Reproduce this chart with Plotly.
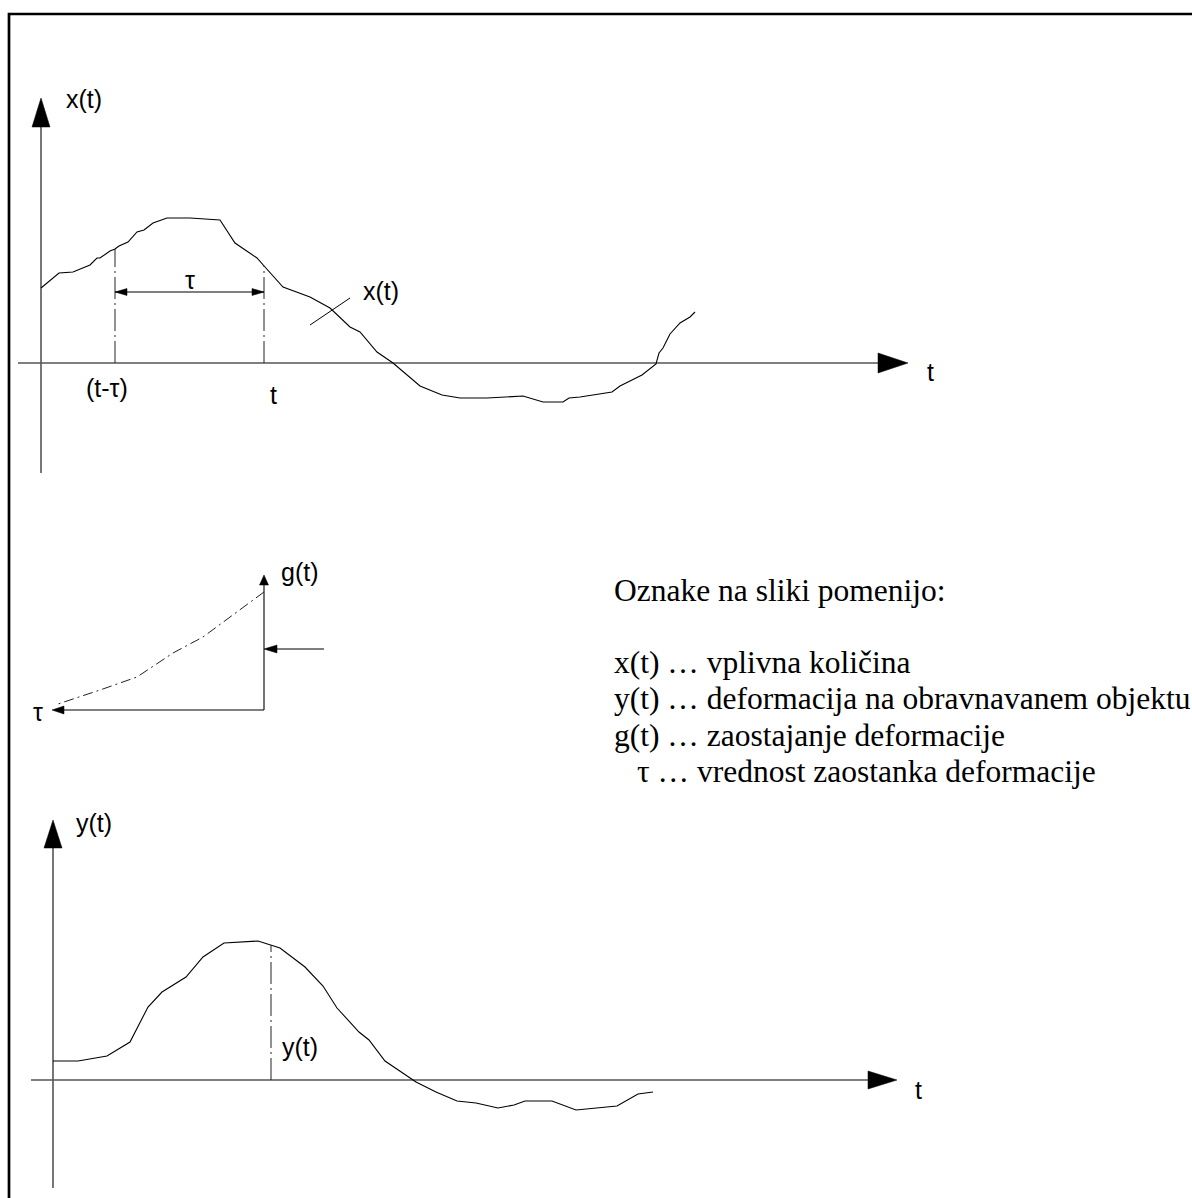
import numpy as np
import plotly.graph_objects as go

W, H = 1192, 1198

# ---- data -------------------------------------------------------------
# x(t): influence quantity, sampled as (time from origin, value above t-axis)
xt_t = [0, 18, 32, 49, 56, 59, 69, 74, 78, 87, 96, 103, 112, 126, 149, 179,
        194, 216, 224, 242, 269, 289, 309, 319, 336, 352, 379, 401, 419, 446,
        482, 502, 522, 528, 539, 571, 579, 601, 615, 618, 622, 629, 639, 649, 654]
xt_v = [75, 90, 91, 98, 105, 105, 112, 114, 117, 121, 131, 133, 140, 145, 145, 143,
        120, 105, 96, 76, 66, 55, 36, 31, 11, 0, -23, -32, -35, -35,
        -33, -39, -39, -35, -34, -29, -23, -12, -1, 10, 15, 29, 40, 46, 51]

# y(t): deformation of the observed object
yt_t = [0, 25, 54, 77, 95, 109, 133, 150, 171, 205, 227, 252, 270, 284, 306,
        316, 332, 363, 383, 404, 423, 445, 461, 472, 499, 523, 564, 585, 600]
yt_v = [19, 19, 24, 38, 73, 88, 103, 123, 137, 139, 132, 113, 94, 72, 48,
        40, 19, -2, -12, -21, -23, -28, -25, -21, -21, -30, -26, -14, -12]

# g(τ): lag weighting function
g_tau = [0, 31, 61, 91, 127, 164, 209]
g_val = [118, 95, 73, 57, 33, 20, 5]

T_NOW = 223      # current time t on the x(t) diagram
TAU = 149        # lag τ
T_Y = 218        # time t marked on the y(t) diagram

legend_lines = [
    "Oznake na sliki pomenijo:",
    "x(t) … vplivna količina",
    "y(t) … deformacija na obravnavanem objektu",
    "g(t) … zaostajanje deformacije",
    "τ … vrednost zaostanka deformacije",
]

# ---- styles -----------------------------------------------------------
AX_COL = "#555555"
CURVE = dict(color="black", width=1.1)
AXIS = dict(color=AX_COL, width=1.6)
DASHDOT = dict(color="#222222", width=1, dash="22px,4px,2px,4px")
SANS = "Liberation Sans, Arial, sans-serif"
SERIF = "Liberation Serif, Times New Roman, serif"
LBL = 25

fig = go.Figure()


def line(xs, ys, ax, style):
    fig.add_trace(go.Scatter(x=xs, y=ys, mode="lines", line=style,
                             xaxis=ax[0], yaxis=ax[1], hoverinfo="skip",
                             showlegend=False))


def arrowhead(tip_x, tip_y, dx, dy, length, half, ax):
    # filled triangle pointing along (dx, dy)
    bx, by = tip_x - dx * length, tip_y - dy * length
    px_, py_ = -dy * half, dx * half
    fig.add_trace(go.Scatter(
        x=[tip_x, bx + px_, bx - px_, tip_x],
        y=[tip_y, by + py_, by - py_, tip_y],
        mode="lines", fill="toself", fillcolor="black",
        line=dict(color="black", width=0.5),
        xaxis=ax[0], yaxis=ax[1], hoverinfo="skip", showlegend=False))


def label(x, y, text, ax, size=LBL, font=SANS, xanchor="center"):
    fig.add_annotation(x=x, y=y, xref=ax[0], yref=ax[1], text=text,
                       showarrow=False, xanchor=xanchor, yanchor="middle",
                       font=dict(family=font, size=size, color="black"))


A1, A2, A3 = ("x", "y"), ("x2", "y2"), ("x3", "y3")

# ---- panel 1: x(t) ----------------------------------------------------
line([-23, 860], [0, 0], A1, AXIS)
arrowhead(867, 0, 1, 0, 30, 10, A1)
line([0, 0], [-110, 258], A1, AXIS)
arrowhead(0, 265, 0, 1, 29, 9, A1)
line(xt_t, xt_v, A1, CURVE)

t0 = T_NOW - TAU
for tm in (t0, T_NOW):
    line([tm, tm], [0, float(np.interp(tm, xt_t, xt_v))], A1, DASHDOT)

dim_v = 71
line([t0, T_NOW], [dim_v, dim_v], A1, dict(color="black", width=1))
arrowhead(t0, dim_v, -1, 0, 12, 3.5, A1)
arrowhead(T_NOW, dim_v, 1, 0, 12, 3.5, A1)
label((t0 + T_NOW) / 2, dim_v + 12, "τ", A1)

line([269, 309], [38, 65], A1, dict(color="black", width=1))
label(340, 72, "x(t)", A1)
label(43, 264, "x(t)", A1)
label(889, -9, "t", A1)
label(t0 - 8, -25, "(t-τ)", A1)
label(T_NOW + 9, -32, "t", A1)

# ---- panel 2: g(τ) (τ grows to the left) -------------------------------
line([0, 205], [0, 0], A2, dict(color="black", width=1.1))
arrowhead(212, 0, 1, 0, 12, 4, A2)
line([0, 0], [0, 128], A2, dict(color="black", width=1.1))
arrowhead(0, 135, 0, 1, 10, 4.5, A2)
line(g_tau, g_val, A2, dict(color="#222222", width=1, dash="10px,4px,2px,4px"))
line([-60, -8], [61, 61], A2, dict(color="black", width=1.1))
arrowhead(0, 61, 1, 0, 13, 4, A2)
label(-36, 138, "g(t)", A2)
label(226, -2, "τ", A2)

# ---- panel 3: y(t) ----------------------------------------------------
line([-22, 838], [0, 0], A3, AXIS)
arrowhead(844, 0, 1, 0, 29, 9, A3)
line([0, 0], [-108, 253], A3, AXIS)
arrowhead(0, 260, 0, 1, 28, 9, A3)
line(yt_t, yt_v, A3, CURVE)
line([T_Y, T_Y], [0, float(np.interp(T_Y, yt_t, yt_v))], A3, DASHDOT)
label(T_Y + 29, 33, "y(t)", A3)
label(41, 257, "y(t)", A3)
label(865, -10, "t", A3)

# ---- legend text ------------------------------------------------------
leg_x = [612, 612, 612, 612, 635]
leg_y = [590, 662, 698, 735, 771]
for tx, lx, ly in zip(legend_lines, leg_x, leg_y):
    fig.add_annotation(x=lx / W, y=1 - ly / H, xref="paper", yref="paper",
                       text=tx, showarrow=False, xanchor="left",
                       yanchor="middle",
                       font=dict(family=SERIF, size=31.5, color="black"))

# ---- outer frame (left and top edges) ---------------------------------
fx, fy = 9 / W, 1 - 14 / H
fig.add_shape(type="path", xref="paper", yref="paper",
              path=f"M {fx},0 L {fx},{fy} L 1.01,{fy}",
              line=dict(color="black", width=2.7))

# ---- axes: one pixel per unit, origins per panel ----------------------
hidden = dict(visible=False, showgrid=False, zeroline=False, fixedrange=True)
fig.update_layout(
    width=W, height=H, margin=dict(l=0, r=0, t=0, b=0),
    paper_bgcolor="white", plot_bgcolor="white", showlegend=False,
    xaxis=dict(range=[-41, W - 41], domain=[0, 1], **hidden),
    yaxis=dict(range=[363 - H, 363], domain=[0, 1], **hidden),
    xaxis2=dict(range=[264, 264 - W], domain=[0, 1], overlaying="x",
                anchor="y2", **hidden),
    yaxis2=dict(range=[710 - H, 710], domain=[0, 1], overlaying="y",
                anchor="x2", **hidden),
    xaxis3=dict(range=[-53, W - 53], domain=[0, 1], overlaying="x",
                anchor="y3", **hidden),
    yaxis3=dict(range=[1080 - H, 1080], domain=[0, 1], overlaying="y",
                anchor="x3", **hidden),
)

fig.write_html("out.html")
